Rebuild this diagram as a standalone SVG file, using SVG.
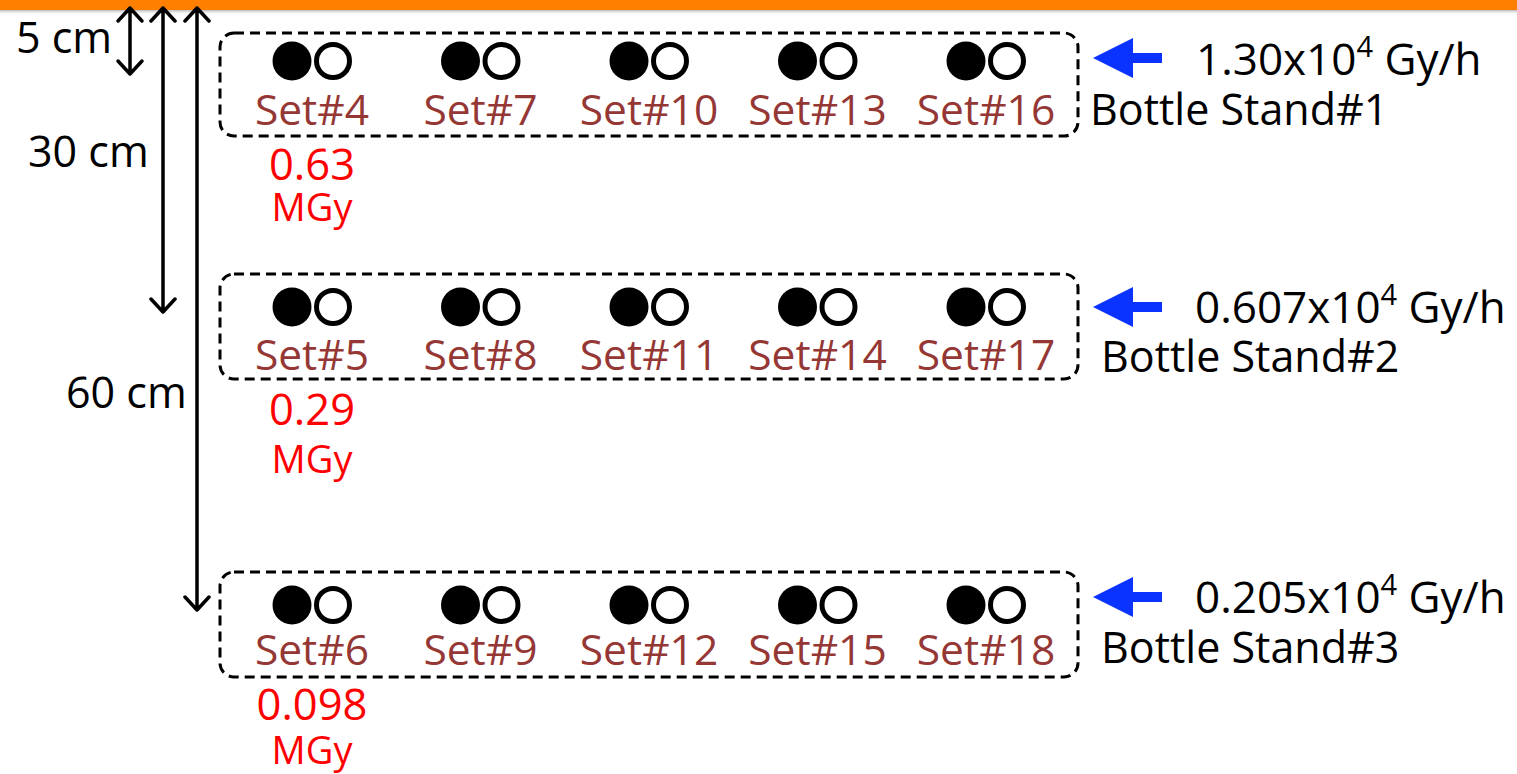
<svg xmlns="http://www.w3.org/2000/svg" width="1517" height="774" viewBox="0 0 1517 774">
  <defs>
    <linearGradient id="barShadow" x1="0" y1="0" x2="0" y2="1">
      <stop offset="0" stop-color="#9a9a9a" stop-opacity="0.7"/>
      <stop offset="1" stop-color="#ffffff" stop-opacity="0"/>
    </linearGradient>
    <g id="pair">
      <circle cx="-20" cy="0" r="19.5" fill="#000"/>
      <circle cx="21" cy="0" r="16.5" fill="#fff" stroke="#000" stroke-width="5"/>
    </g>
    <path id="blueArrow" d="M0,0 L40,-20 L40,-5 L69,-5 L69,5 L40,5 L40,20 Z" fill="#0a33ff"/>
  </defs>
  <style>
    text { font-family: "Open Sans", Lato, "Liberation Sans", sans-serif; }
    .set { fill: #953735; font-size: 42.5px; text-anchor: middle; }
    .dose { fill: #ff0000; font-size: 43.5px; text-anchor: middle; }
    .unit { fill: #ff0000; font-size: 38px; text-anchor: middle; }
    .lbl { fill: #000; font-size: 43px; }
    .rate { fill: #000; font-size: 44px; }
    .sup { font-size: 29px; }
    .box { fill: none; stroke: #000; stroke-width: 3; stroke-dasharray: 10 6; }
    .dim { fill: none; stroke: #000; stroke-width: 3.5; stroke-linecap: round; stroke-linejoin: round; }
  </style>

  <rect width="1517" height="774" fill="#fff"/>
  <!-- source plate edge -->
  <rect x="0" y="10" width="1517" height="5" fill="url(#barShadow)"/>
  <rect x="0" y="0" width="1517" height="10" fill="#ff8000"/>

  <!-- distance arrows -->
  <g id="connectors">
    <path class="dim" d="M130,8 V74 M118,21 L130,8 L142,21 M118,61 L130,74 L142,61"/>
    <path class="dim" d="M163,8 V312 M151,21 L163,8 L175,21 M151,299 L163,312 L175,299"/>
    <path class="dim" d="M197,8 V610 M185,21 L197,8 L209,21 M185,597 L197,610 L209,597"/>
    <use href="#blueArrow" x="1093" y="58"/>
    <use href="#blueArrow" x="1093" y="307"/>
    <use href="#blueArrow" x="1093" y="597"/>
  </g>

  <g id="distance-labels">
    <text class="lbl" x="16" y="53">5 cm</text>
    <text class="lbl" x="28" y="167">30 cm</text>
    <text class="lbl" x="66" y="408">60 cm</text>
  </g>

  <!-- stand 1 -->
  <g id="stand1">
    <rect class="box" x="220" y="33" width="858" height="103" rx="14"/>
    <use href="#pair" x="312" y="61"/>
    <use href="#pair" x="480.5" y="61"/>
    <use href="#pair" x="649" y="61"/>
    <use href="#pair" x="817.5" y="61"/>
    <use href="#pair" x="986" y="61"/>
    <text class="set" x="312" y="125">Set#4</text>
    <text class="set" x="480.5" y="125">Set#7</text>
    <text class="set" x="649" y="125">Set#10</text>
    <text class="set" x="817.5" y="125">Set#13</text>
    <text class="set" x="986" y="125">Set#16</text>
  </g>
  <g id="stand1-info">
    <text class="rate" x="1196" y="75">1.30x10<tspan class="sup" dy="-18">4</tspan><tspan dy="18"> Gy/h</tspan></text>
    <text class="lbl" x="1090" y="125">Bottle Stand#1</text>
  </g>
  <g id="dose1">
    <text class="dose" x="312" y="180">0.63</text>
    <text class="unit" x="312" y="221">MGy</text>
  </g>

  <!-- stand 2 -->
  <g id="stand2">
    <rect class="box" x="220" y="274" width="858" height="105" rx="14"/>
    <use href="#pair" x="312" y="307"/>
    <use href="#pair" x="480.5" y="307"/>
    <use href="#pair" x="649" y="307"/>
    <use href="#pair" x="817.5" y="307"/>
    <use href="#pair" x="986" y="307"/>
    <text class="set" x="312" y="370">Set#5</text>
    <text class="set" x="480.5" y="370">Set#8</text>
    <text class="set" x="649" y="370">Set#11</text>
    <text class="set" x="817.5" y="370">Set#14</text>
    <text class="set" x="986" y="370">Set#17</text>
  </g>
  <g id="stand2-info">
    <text class="rate" x="1195" y="323">0.607x10<tspan class="sup" dy="-18">4</tspan><tspan dy="18"> Gy/h</tspan></text>
    <text class="lbl" x="1101" y="372">Bottle Stand#2</text>
  </g>
  <g id="dose2">
    <text class="dose" x="312" y="425">0.29</text>
    <text class="unit" x="312" y="473">MGy</text>
  </g>

  <!-- stand 3 -->
  <g id="stand3">
    <rect class="box" x="220" y="572" width="858" height="105" rx="14"/>
    <use href="#pair" x="312" y="605"/>
    <use href="#pair" x="480.5" y="605"/>
    <use href="#pair" x="649" y="605"/>
    <use href="#pair" x="817.5" y="605"/>
    <use href="#pair" x="986" y="605"/>
    <text class="set" x="312" y="665">Set#6</text>
    <text class="set" x="480.5" y="665">Set#9</text>
    <text class="set" x="649" y="665">Set#12</text>
    <text class="set" x="817.5" y="665">Set#15</text>
    <text class="set" x="986" y="665">Set#18</text>
  </g>
  <g id="stand3-info">
    <text class="rate" x="1195" y="613">0.205x10<tspan class="sup" dy="-18">4</tspan><tspan dy="18"> Gy/h</tspan></text>
    <text class="lbl" x="1101" y="663">Bottle Stand#3</text>
  </g>
  <g id="dose3">
    <text class="dose" x="312" y="720">0.098</text>
    <text class="unit" x="312" y="764">MGy</text>
  </g>
</svg>
